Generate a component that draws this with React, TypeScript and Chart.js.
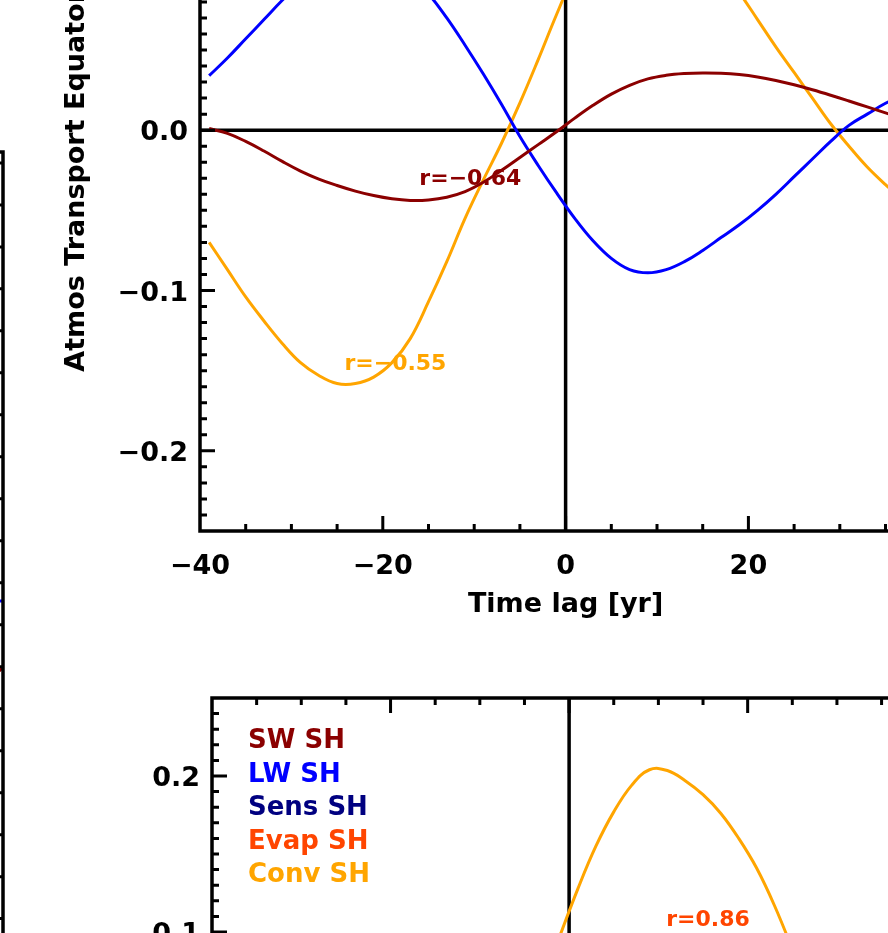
import React, { useEffect, useRef } from 'react';
import { Chart, registerables } from 'chart.js';

Chart.register(...registerables);

const FONT = "'DejaVu Sans', 'Liberation Sans', sans-serif";

// ---------- Top panel data ----------
const TOP_LAGS = [-39, -37, -35, -33, -31, -29, -27, -25, -23, -21, -19, -17, -15, -13, -11, -9, -7, -5, -3, -1,
  1, 3, 5, 7, 9, 11, 13, 15, 17, 19, 21, 23, 25, 27, 29, 31, 33, 35, 37, 39];
const SW_SH_TOP = [0.001, -0.002, -0.007, -0.013, -0.0195, -0.0255, -0.0305, -0.0345, -0.038, -0.0408, -0.0428, -0.0438, -0.0435, -0.0418, -0.0383, -0.0325, -0.025, -0.017, -0.009, -0.001,
  0.0075, 0.0155, 0.0225, 0.028, 0.032, 0.0342, 0.0353, 0.0357, 0.0355, 0.0347, 0.0332, 0.031, 0.0283, 0.0252, 0.0218, 0.0182, 0.0145, 0.0108, 0.0072, 0.004];
const LW_SH_TOP = [0.034, 0.045, 0.057, 0.069, 0.081, 0.092, 0.101, 0.107, 0.110, 0.109, 0.104, 0.096, 0.085, 0.070, 0.053, 0.035, 0.016, -0.004, -0.022, -0.039,
  -0.055, -0.069, -0.080, -0.087, -0.089, -0.087, -0.082, -0.075, -0.067, -0.059, -0.050, -0.040, -0.029, -0.018, -0.007, 0.003, 0.010, 0.0168, 0.022, 0.027];
const CONV_SH_TOP = [-0.070, -0.087, -0.104, -0.119, -0.133, -0.145, -0.153, -0.158, -0.158, -0.154, -0.145, -0.130, -0.107, -0.082, -0.055, -0.031, -0.008, 0.017, 0.044, 0.072,
  0.098, 0.118, 0.132, 0.140, 0.142, 0.139, 0.131, 0.118, 0.102, 0.086, 0.069, 0.052, 0.036, 0.020, 0.004, -0.010, -0.023, -0.034, -0.044, -0.052];
const TOP_LABELS = ['r=\u22120.64', 'r=\u22120.55'];

// ---------- Bottom panel data ----------
const BOTTOM_LAGS = [-5, -3, -1, 1, 3, 5, 7, 9, 11, 13, 15, 17, 19, 21, 23, 25, 27, 29];
const CONV_SH_BOTTOM = [0.036, 0.067, 0.098, 0.128, 0.155, 0.177, 0.194, 0.204, 0.2035, 0.197, 0.188, 0.176, 0.160, 0.141, 0.117, 0.089, 0.059, 0.028];
const BOTTOM_LABELS = ['r=0.86'];
const LEGEND_NAMES = ['SW SH', 'LW SH', 'Sens SH', 'Evap SH', 'Conv SH'];
const LEGEND_COLORS = ['#8b0000', '#0000ff', '#000080', '#ff4500', '#ffa500'];

// ---------- Left (cropped) panel data ----------
const LEFT_LAGS = [32, 34, 36, 38, 40];
const LW_SH_LEFT = [-0.318, -0.321, -0.322, -0.322, -0.3216];
const SW_SH_LEFT = [-0.47, -0.455, -0.44, -0.422, -0.401];

// ---------- Ticks ----------
const X_TICKS = [-40, -20, 0, 20, 40];
const Y_TICKS = [-0.2, -0.1, 0, 0.1, 0.2];

const SW = '#8b0000';
const LW = '#0000ff';
const CONV = '#ffa500';
const EVAP = '#ff4500';

const minus = (s: string) => s.replace('-', '\u2212');
const fmtX = (v: number) => minus(String(Math.round(v)));
const fmtY = (v: number) => minus(v.toFixed(1));

type Label = { text: string; color: string; x: number; y: number };
type FrameCfg = {
  xMinor: number; xMajor: number; yMinor: number; yMajor: number;
  majorLen: number; minorLen: number; zero: boolean;
  labels?: Label[];
  legend?: boolean;
};

function idlFrame(cfg: FrameCfg) {
  return {
    id: 'idlFrame',
    beforeDatasetsDraw(chart: any) {
      if (!cfg.zero) return;
      const { ctx, chartArea: a, scales } = chart;
      const px = scales.x.getPixelForValue(0);
      const py = scales.y.getPixelForValue(0);
      ctx.save();
      ctx.strokeStyle = '#000';
      ctx.lineWidth = 3.5;
      ctx.beginPath();
      ctx.moveTo(px, a.top); ctx.lineTo(px, a.bottom);
      ctx.moveTo(a.left, py); ctx.lineTo(a.right, py);
      ctx.stroke();
      ctx.restore();
    },
    afterDatasetsDraw(chart: any) {
      const { ctx, chartArea: a, scales } = chart;
      const x = scales.x, y = scales.y;
      ctx.save();
      ctx.strokeStyle = '#000';
      ctx.lineWidth = 3.5;
      ctx.lineJoin = 'miter';
      ctx.lineCap = 'butt';
      ctx.strokeRect(a.left, a.top, a.right - a.left, a.bottom - a.top);
      ctx.lineWidth = 3;
      ctx.beginPath();
      const iter = (min: number, max: number, minor: number, major: number, fn: (v: number, len: number) => void) => {
        for (let k = Math.ceil(min / minor - 1e-9); k * minor <= max + 1e-9; k++) {
          const v = k * minor;
          if (Math.abs(v - min) < 1e-9 || Math.abs(v - max) < 1e-9) continue;
          const r = v / major;
          const isMajor = Math.abs(r - Math.round(r)) < 1e-6;
          fn(v, isMajor ? cfg.majorLen : cfg.minorLen);
        }
      };
      iter(x.min, x.max, cfg.xMinor, cfg.xMajor, (v, len) => {
        const p = x.getPixelForValue(v);
        ctx.moveTo(p, a.bottom); ctx.lineTo(p, a.bottom - len);
        ctx.moveTo(p, a.top); ctx.lineTo(p, a.top + len);
      });
      iter(y.min, y.max, cfg.yMinor, cfg.yMajor, (v, len) => {
        const p = y.getPixelForValue(v);
        ctx.moveTo(a.left, p); ctx.lineTo(a.left + len, p);
        ctx.moveTo(a.right, p); ctx.lineTo(a.right - len, p);
      });
      ctx.stroke();

      if (cfg.labels) {
        ctx.font = `bold 22px ${FONT}`;
        ctx.textBaseline = 'alphabetic';
        ctx.textAlign = 'left';
        for (const l of cfg.labels) {
          ctx.fillStyle = l.color;
          ctx.fillText(l.text, x.getPixelForValue(l.x), y.getPixelForValue(l.y));
        }
      }
      if (cfg.legend) {
        ctx.font = `bold 26px ${FONT}`;
        ctx.textBaseline = 'alphabetic';
        ctx.textAlign = 'left';
        LEGEND_NAMES.forEach((n, i) => {
          ctx.fillStyle = LEGEND_COLORS[i];
          ctx.fillText(n, a.left + 36, a.top + 50 + i * 33.6);
        });
      }
      ctx.restore();
    },
  };
}

const line = (label: string, lags: number[], vals: number[], color: string) => ({
  label,
  data: lags.map((l, i) => ({ x: l, y: vals[i] })),
  borderColor: color,
  backgroundColor: color,
  borderWidth: 3,
  pointRadius: 0,
  fill: false,
  tension: 0.4,
});

function axisConfig(opts: {
  xMin: number; xMax: number; yMin: number; yMax: number;
  show: boolean; yWidth: number; xHeight: number;
  xTitle?: string; yTitle?: string;
}) {
  const tickFont = { family: FONT, size: 27, weight: 'bold' as const };
  return {
    x: {
      type: 'linear' as const,
      min: opts.xMin, max: opts.xMax,
      display: opts.show,
      afterBuildTicks: (s: any) => { s.ticks = X_TICKS.map((v) => ({ value: v })); },
      afterFit: (s: any) => { s.height = opts.xHeight; },
      grid: { display: false, drawTicks: false },
      border: { display: false },
      ticks: { color: '#000', font: tickFont, padding: 20, maxRotation: 0, autoSkip: false, callback: (v: any) => fmtX(Number(v)) },
      title: opts.xTitle
        ? { display: true, text: opts.xTitle, color: '#000', font: tickFont, padding: { top: 0, bottom: 10 } }
        : { display: false },
    },
    y: {
      type: 'linear' as const,
      min: opts.yMin, max: opts.yMax,
      display: opts.show,
      afterBuildTicks: (s: any) => { s.ticks = Y_TICKS.map((v) => ({ value: v })); },
      afterFit: (s: any) => { s.width = opts.yWidth; },
      grid: { display: false, drawTicks: false },
      border: { display: false },
      ticks: { color: '#000', font: tickFont, padding: 12, labelOffset: 3, autoSkip: false, callback: (v: any) => fmtY(Number(v)) },
      title: opts.yTitle
        ? { display: true, text: opts.yTitle, color: '#000', font: tickFont, padding: { top: 11, bottom: 0 } }
        : { display: false },
    },
  };
}

function topConfig(): any {
  return {
    type: 'line',
    data: {
      datasets: [
        line('SW SH', TOP_LAGS, SW_SH_TOP, SW),
        line('LW SH', TOP_LAGS, LW_SH_TOP, LW),
        line('Conv SH', TOP_LAGS, CONV_SH_TOP, CONV),
      ],
    },
    options: {
      responsive: false,
      animation: false,
      events: [],
      layout: { padding: { left: 0, top: 29, right: 36, bottom: 0 } },
      plugins: { legend: { display: false }, tooltip: { enabled: false } },
      scales: axisConfig({
        xMin: -40, xMax: 40, yMin: -0.25, yMax: 0.234, show: true, yWidth: 150, xHeight: 100,
        xTitle: 'Time lag [yr]', yTitle: 'Atmos Transport Equatorward',
      }),
    },
    plugins: [idlFrame({
      xMinor: 5, xMajor: 20, yMinor: 0.01, yMajor: 0.1, majorLen: 15, minorLen: 7, zero: true,
      labels: [
        { text: TOP_LABELS[0], color: SW, x: -16.0, y: -0.0343 },
        { text: TOP_LABELS[1], color: CONV, x: -24.2, y: -0.1496 },
      ],
    })],
  };
}

function bottomConfig(): any {
  return {
    type: 'line',
    data: {
      datasets: [line('Conv SH', BOTTOM_LAGS, CONV_SH_BOTTOM, CONV)],
    },
    options: {
      responsive: false,
      animation: false,
      events: [],
      layout: { padding: { left: 0, top: 29, right: 36, bottom: 0 } },
      plugins: { legend: { display: false }, tooltip: { enabled: false } },
      scales: axisConfig({
        xMin: -40, xMax: 40, yMin: -0.25, yMax: 0.25, show: true, yWidth: 150, xHeight: 100,
        xTitle: 'Time lag [yr]',
      }),
    },
    plugins: [idlFrame({
      xMinor: 5, xMajor: 20, yMinor: 0.01, yMajor: 0.1, majorLen: 15, minorLen: 7, zero: true,
      labels: [{ text: BOTTOM_LABELS[0], color: EVAP, x: 10.88, y: 0.1038 }],
      legend: true,
    })],
  };
}

function leftConfig(): any {
  return {
    type: 'line',
    data: {
      datasets: [
        line('LW SH', LEFT_LAGS, LW_SH_LEFT, LW),
        line('SW SH', LEFT_LAGS, SW_SH_LEFT, SW),
      ],
    },
    options: {
      responsive: false,
      animation: false,
      events: [],
      layout: { padding: { left: 0, top: 4, right: 4, bottom: 0 } },
      plugins: { legend: { display: false }, tooltip: { enabled: false } },
      scales: {
        x: { type: 'linear', min: -40, max: 40, display: false },
        y: { type: 'linear', min: -0.735, max: 0.213, display: false },
      },
    },
    plugins: [idlFrame({
      xMinor: 5, xMajor: 20, yMinor: 0.05, yMajor: 0.05, majorLen: 8, minorLen: 8, zero: false,
    })],
  };
}

function Panel({ make, left, top, width, height }: { make: () => any; left: number; top: number; width: number; height: number }) {
  const ref = useRef<HTMLCanvasElement>(null);
  useEffect(() => {
    const c = new Chart(ref.current as HTMLCanvasElement, make());
    return () => c.destroy();
  }, []);
  return (
    <canvas
      ref={ref}
      width={width}
      height={height}
      style={{ position: 'absolute', left, top, width, height }}
    />
  );
}

export default function App() {
  return (
    <div style={{ position: 'fixed', left: 0, top: 0, width: 888, height: 933, overflow: 'hidden', background: '#fff' }}>
      <Panel make={leftConfig} left={-797} top={148} width={804} height={800} />
      <Panel make={topConfig} left={50} top={-274} width={920} height={905} />
      <Panel make={bottomConfig} left={62} top={669} width={903} height={909} />
    </div>
  );
}
